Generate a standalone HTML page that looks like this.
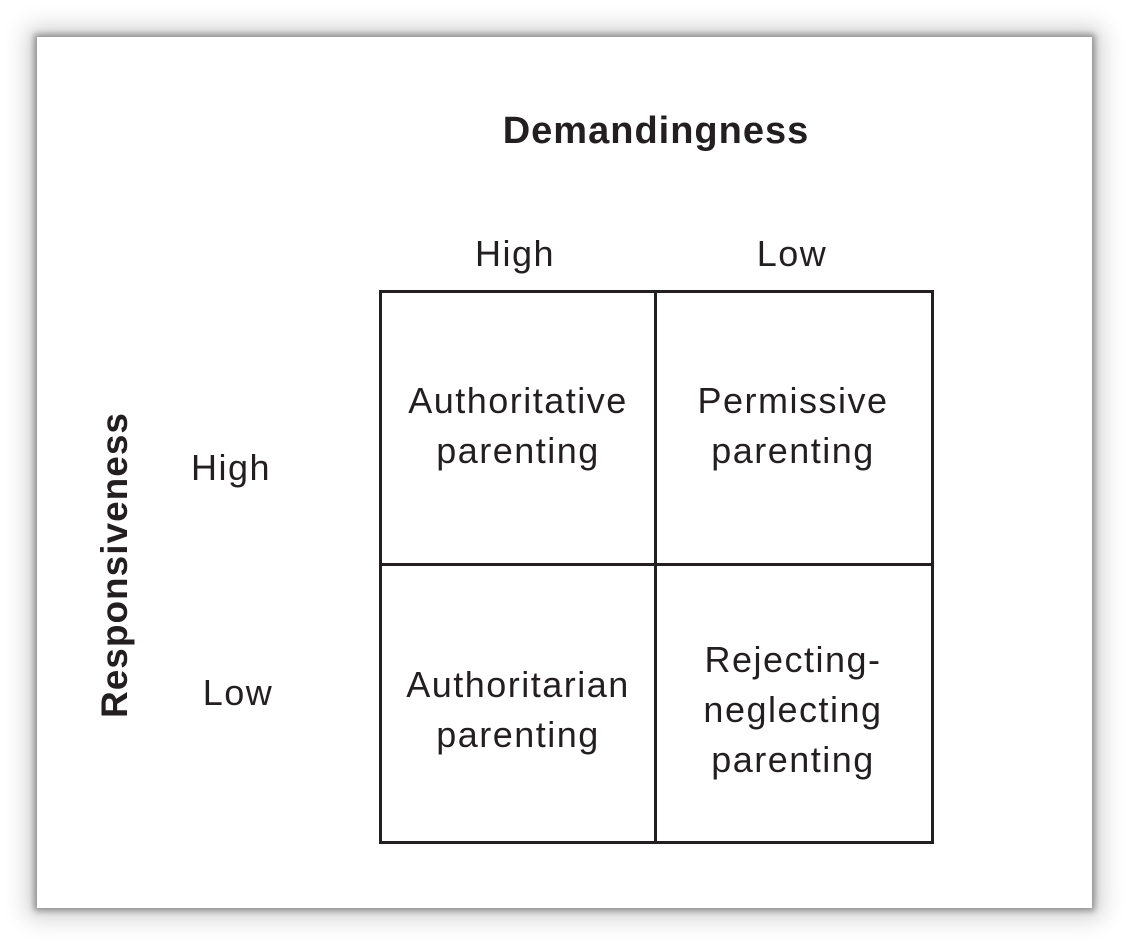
<!DOCTYPE html>
<html><head><style>
html,body{margin:0;padding:0;background:#fff;}
body{width:1129px;height:946px;position:relative;overflow:hidden;font-family:"Liberation Sans",sans-serif;color:#231f20;}
.panel{position:absolute;left:37px;top:37px;width:1055px;height:871px;background:#fff;box-shadow:0 0 6px 3px rgba(0,0,0,0.35),0 0 22px 10px rgba(0,0,0,0.18);}
.t{position:absolute;white-space:nowrap;text-align:center;font-size:36px;line-height:50px;letter-spacing:1.5px;}
.b{font-weight:bold;letter-spacing:1px;}
.grid{position:absolute;left:379px;top:290px;width:549px;height:548px;border:3px solid #231f20;}
.v{position:absolute;left:654px;top:290px;width:3px;height:552px;background:#231f20;}
.h{position:absolute;left:379px;top:563px;width:553px;height:3px;background:#231f20;}
</style></head><body>
<div class="panel"></div>
<div class="t b" style="left:456px;width:400px;top:106px;font-size:38px;">Demandingness</div>
<div class="t" style="left:415px;width:200px;top:229px;">High</div>
<div class="t" style="left:692px;width:200px;top:229px;">Low</div>
<div class="t" style="left:131px;width:200px;top:443px;">High</div>
<div class="t" style="left:138px;width:200px;top:668px;">Low</div>
<div class="t b" style="left:-85px;width:400px;top:540px;font-size:37px;transform:rotate(-90deg);">Responsiveness</div>
<div class="grid"></div><div class="v"></div><div class="h"></div>
<div class="t" style="left:383px;width:270px;top:376px;">Authoritative<br>parenting</div>
<div class="t" style="left:658px;width:270px;top:376px;">Permissive<br>parenting</div>
<div class="t" style="left:383px;width:270px;top:660px;">Authoritarian<br>parenting</div>
<div class="t" style="left:658px;width:270px;top:635px;">Rejecting-<br>neglecting<br>parenting</div>
</body></html>
